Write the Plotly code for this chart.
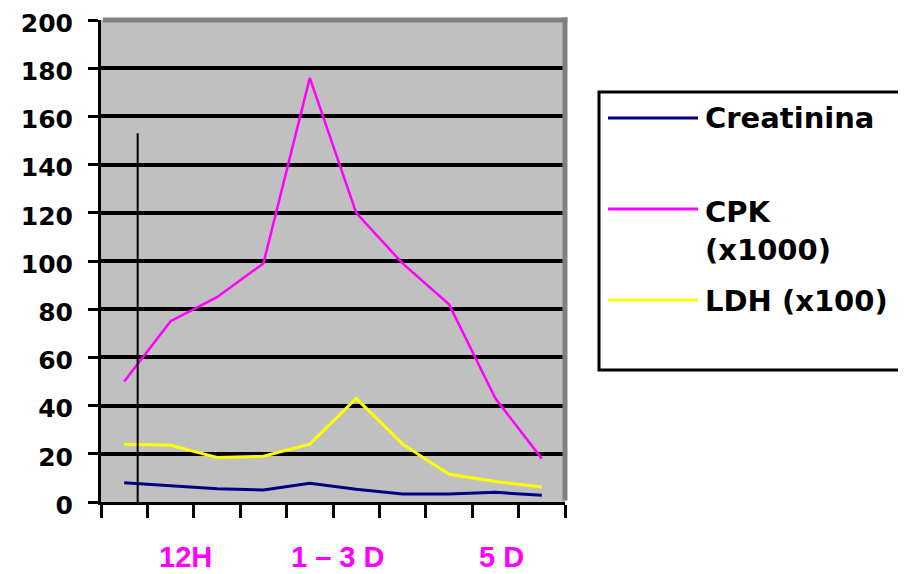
import plotly.graph_objects as go

# ---- data ----
time_points = ["T1", "T2", "T3", "T4", "T5", "T6", "T7", "T8", "T9", "T10"]
creatinina = [8.0, 6.9, 5.5, 5.0, 7.8, 5.3, 3.3, 3.3, 4.0, 2.8]
cpk_x1000 = [50, 75, 85, 99, 176, 120, 99, 82, 43, 18]
ldh_x100 = [24, 23.5, 18.5, 19, 24, 43, 24, 11.5, 8.5, 6.2]

series_names = ["Creatinina", "CPK<br>(x1000)", "LDH (x100)"]
series_values = [creatinina, cpk_x1000, ldh_x100]
series_colors = ["#000080", "#FF00FF", "#FFFF00"]
series_widths = [3, 2.5, 3]

y_ticks = [0, 20, 40, 60, 80, 100, 120, 140, 160, 180, 200]
period_labels = ["12H", "1 – 3 D", "5 D"]
period_positions = [1.32, 4.6, 8.13]   # in category-index units
marker_line_x = 0.29
marker_line_top = 153

# the page body has an 8px default margin: size the figure to fit the window
OFF = 8
W, H = 906 - OFF, 574 - OFF
L = 101 - OFF
T = 20 - OFF
plot_right = 565 - OFF
plot_bottom = 502 - OFF
R = W - plot_right
B = H - plot_bottom
pw, ph = W - L - R, H - T - B


def px_x(px):  # screen pixel -> paper
    return (px - OFF - L) / pw


def px_y(py):
    return 1 - (py - OFF - T) / ph


fig = go.Figure()
for name, vals, col, wd in zip(series_names, series_values, series_colors, series_widths):
    fig.add_trace(go.Scatter(
        x=time_points, y=vals, mode="lines", name=name.replace("<br>", " "),
        line=dict(color=col, width=wd), showlegend=False, hoverinfo="skip"))

shapes = []
# gray plot-area border (top and right)
shapes.append(dict(type="line", xref="paper", yref="paper", x0=0.004, x1=1.005, y0=1, y1=1,
                   line=dict(color="#808080", width=5), layer="above"))
shapes.append(dict(type="line", xref="paper", yref="paper", x0=1, x1=1, y0=0.003, y1=1.005,
                   line=dict(color="#808080", width=5), layer="above"))
# thin vertical marker line
shapes.append(dict(type="line", xref="x", yref="y", x0=marker_line_x, x1=marker_line_x,
                   y0=0, y1=marker_line_top, line=dict(color="black", width=2)))

# manual legend box
shapes.append(dict(type="rect", xref="paper", yref="paper",
                   x0=px_x(599), x1=px_x(903), y0=px_y(370), y1=px_y(92),
                   line=dict(color="black", width=3), fillcolor="white", layer="above"))
legend_sample_y = [118, 209, 300]
legend_text_y = [118, 231, 301]
annotations = []
for name, col, sy, ty in zip(series_names, series_colors, legend_sample_y, legend_text_y):
    shapes.append(dict(type="line", xref="paper", yref="paper",
                       x0=px_x(608), x1=px_x(698), y0=px_y(sy), y1=px_y(sy),
                       line=dict(color=col, width=3), layer="above"))
    annotations.append(dict(xref="paper", yref="paper", x=px_x(703), y=px_y(ty),
                            xanchor="left", yanchor="middle", align="left",
                            text=name, showarrow=False,
                            font=dict(family="DejaVu Sans", size=29, color="black",
                                      weight="bold")))

for lab, pos in zip(period_labels, period_positions):
    annotations.append(dict(xref="x", yref="paper", x=pos, y=px_y(557),
                            xanchor="center", yanchor="middle", text=lab, showarrow=False,
                            font=dict(family="Liberation Sans", size=29, color="#FF00FF",
                                      weight="bold")))

fig.update_layout(
    width=W, height=H,
    margin=dict(l=L, r=R, t=T, b=B, pad=0, autoexpand=False),
    paper_bgcolor="white", plot_bgcolor="#C0C0C0",
    shapes=shapes, annotations=annotations,
    showlegend=False,
)
fig.update_xaxes(type="category", range=[-0.5, 9.5], tickson="boundaries",
                 showticklabels=False, ticks="outside", ticklen=13, tickwidth=3,
                 tickcolor="black", showline=True, linecolor="black", linewidth=3,
                 showgrid=False, zeroline=False, fixedrange=True, automargin=False)
fig.update_yaxes(range=[0, 200], tickvals=y_ticks, ticks="outside", ticklen=10,
                 tickwidth=3, tickcolor="black", showline=True, linecolor="black",
                 linewidth=3, showgrid=True, gridcolor="black", gridwidth=3.5,
                 zeroline=False, ticklabelstandoff=10, automargin=False,
                 ticklabeloverflow="allow", ticklabelshift=3,
                 tickfont=dict(family="DejaVu Sans", size=25, color="black", weight="bold"),
                 fixedrange=True)

fig.write_html("out.html")
